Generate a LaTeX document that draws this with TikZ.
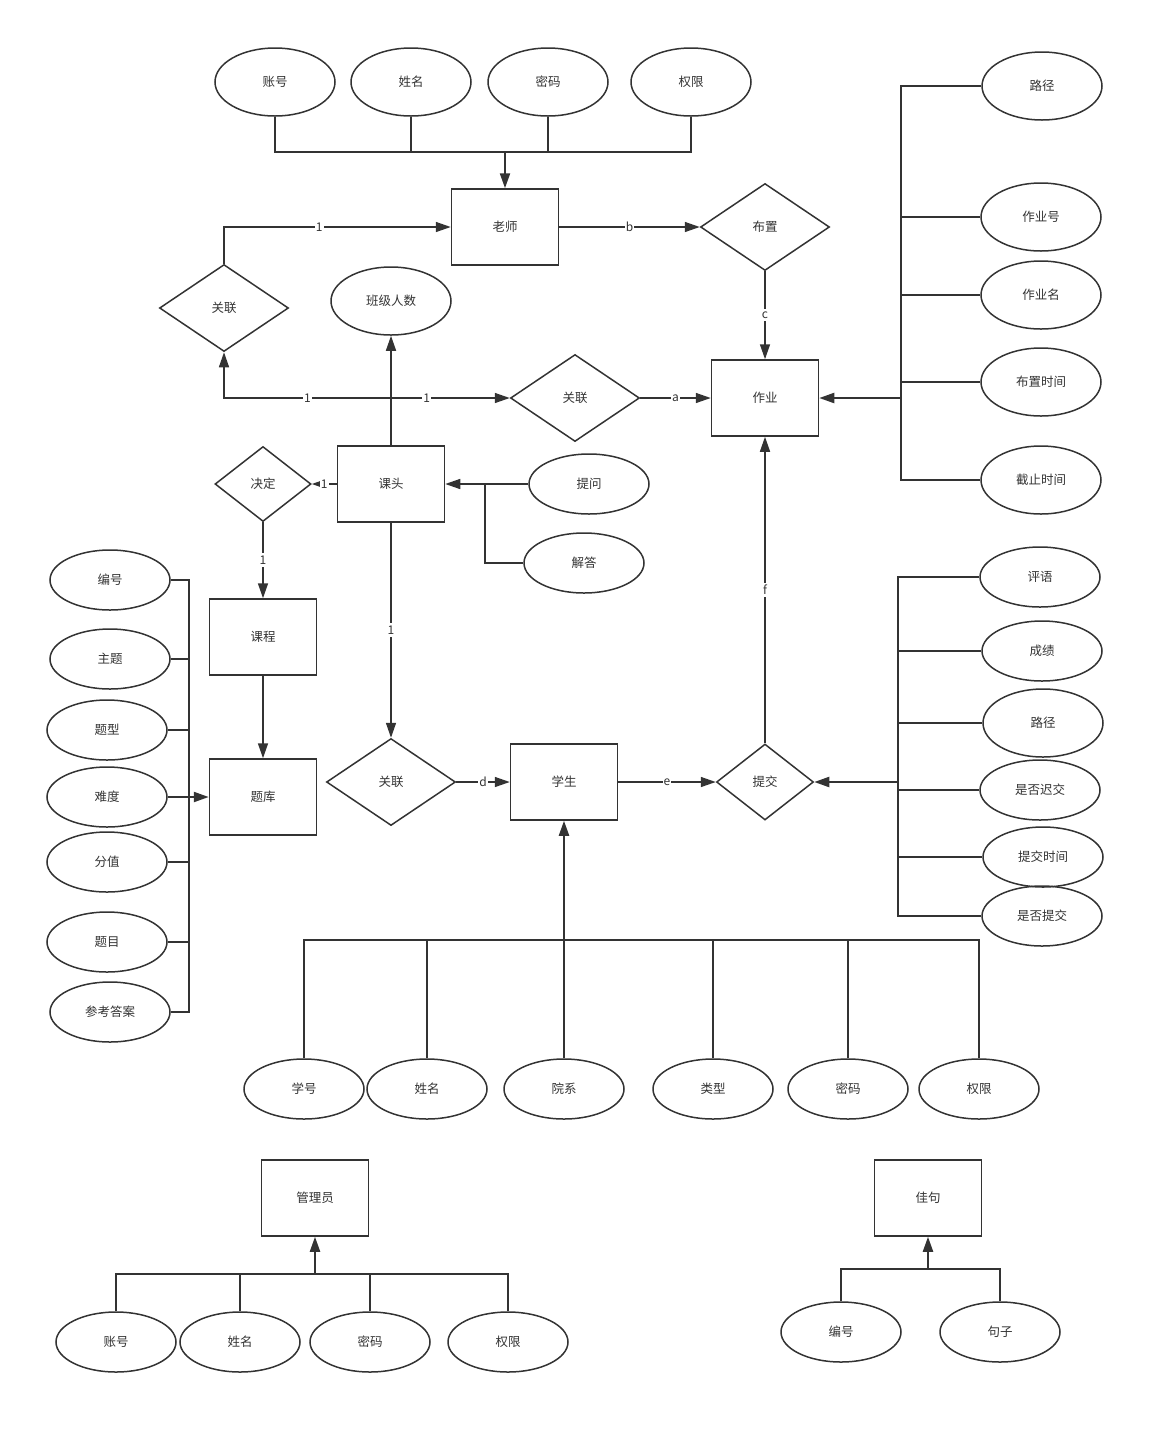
\documentclass[tikz,border=0pt]{standalone}
\usepackage{fontspec}
\setmainfont{Noto Sans CJK SC}
\usepackage{tikz}
\usetikzlibrary{shapes.geometric,arrows.meta}
\definecolor{inkgray}{RGB}{51,51,51}

\begin{document}
\begin{tikzpicture}[x=1pt,y=-1pt,
  entity/.style={rectangle, draw=inkgray, line width=1.5pt, minimum width=107pt, minimum height=76pt, font=\fontsize{12.5}{14}\selectfont, text=inkgray},
  attr/.style={ellipse, draw=inkgray, line width=1.5pt, inner sep=0pt, minimum width=120pt, minimum height=60pt, font=\fontsize{12.5}{14}\selectfont, text=inkgray},
  rel/.style={diamond, draw=inkgray, line width=1.5pt, inner sep=0pt, minimum width=129pt, minimum height=87pt, font=\fontsize{12.5}{14}\selectfont, text=inkgray},
  conn/.style={draw=inkgray, line width=1.5pt},
  arr/.style={conn, -{Triangle[length=15pt,width=10pt]}},
  trunk/.style={arr, line width=2.2pt},
  lbl/.style={fill=white, inner xsep=1pt, inner ysep=2.5pt, font=\fontsize{12}{14}\selectfont, text=inkgray}
]
  \useasboundingbox (0,0) rectangle (1164,1433);

  \node[entity] (teacher) at (505,227) {老师};
  \node[rel] (assign) at (765,227) {布置};
  \node[entity] (hw) at (765,398) {作业};
  \node[rel] (relT) at (224,308) {关联};
  \node[attr, minimum height=68pt] (banji) at (391,301) {班级人数};
  \node[entity] (ketou) at (391,484) {课头};
  \node[rel] (relH) at (575,398) {关联};
  \node[rel, minimum width=96pt, minimum height=75pt] (decide) at (263,484) {决定};
  \node[entity] (course) at (263,637) {课程};
  \node[entity] (bank) at (263,797) {题库};
  \node[attr] (ask) at (589,484) {提问};
  \node[attr] (answer) at (584,563) {解答};
  \node[rel] (relS) at (391,782) {关联};
  \node[entity] (student) at (564,782) {学生};
  \node[rel, minimum width=97pt, minimum height=76pt] (submit) at (765,782) {提交};
  \node[entity] (admin) at (315,1198) {管理员};
  \node[entity] (quote) at (928,1198) {佳句};

  \coordinate (tJ) at (505,152);
  \coordinate (hJ) at (901,398);
  \coordinate (kJ) at (391,398);
  \coordinate (qaJ) at (485,484);
  \coordinate (qJ) at (189,797);
  \coordinate (sJ) at (898,782);
  \coordinate (stJ) at (564,940);
  \coordinate (aJ) at (315,1274);
  \coordinate (jJ) at (928,1269);

  \foreach \n/\x/\t in {ta1/275/账号, ta2/411/姓名, ta3/548/密码, ta4/691/权限} {
    \node[attr, minimum height=68pt] (\n) at (\x,82) {\t};
    \draw[conn] (\n.south) |- (tJ);
  }
  \draw[trunk] (tJ) -- (teacher);

  \foreach \n/\x/\y/\t in {ha1/1042/86/路径, ha2/1041/217/作业号, ha3/1041/295/作业名, ha4/1041/382/布置时间, ha5/1041/480/截止时间} {
    \node[attr, minimum height=68pt] (\n) at (\x,\y) {\t};
    \draw[conn] (\n.west) -| (hJ);
  }
  \draw[trunk] (hJ) -- (hw);

  \foreach \n/\x/\y/\h/\t in {sa1/1040/577/60/评语, sa2/1042/651/60/成绩, sa3/1043/723/68/路径, sa4/1040/790/60/是否迟交, sa5/1043/857/60/提交时间, sa6/1042/916/60/是否提交} {
    \node[attr, minimum height=\h pt] (\n) at (\x,\y) {\t};
    \draw[conn] (\n.west) -| (sJ);
  }
  \draw[trunk] (sJ) -- (submit);

  \foreach \n/\x/\y/\t in {qa1/110/580/编号, qa2/110/659/主题, qa3/107/730/题型, qa4/107/797/难度, qa5/107/862/分值, qa6/107/942/题目, qa7/110/1012/参考答案} {
    \node[attr] (\n) at (\x,\y) {\t};
    \draw[conn] (\n.east) -| (qJ);
  }
  \draw[trunk] (qJ) -- (bank);

  \foreach \n/\x/\t in {st1/304/学号, st2/427/姓名, st3/564/院系, st4/713/类型, st5/848/密码, st6/979/权限} {
    \node[attr] (\n) at (\x,1089) {\t};
    \draw[conn] (\n.north) |- (stJ);
  }
  \draw[trunk] (stJ) -- (student);

  \foreach \n/\x/\t in {ad1/116/账号, ad2/240/姓名, ad3/370/密码, ad4/508/权限} {
    \node[attr] (\n) at (\x,1342) {\t};
    \draw[conn] (\n.north) |- (aJ);
  }
  \draw[trunk] (aJ) -- (admin);

  \foreach \n/\x/\t in {qu1/841/编号, qu2/1000/句子} {
    \node[attr] (\n) at (\x,1332) {\t};
    \draw[conn] (\n.north) |- (jJ);
  }
  \draw[trunk] (jJ) -- (quote);

  \draw[arr] (teacher) -- node[lbl]{b} (assign);
  \draw[arr] (assign) -- node[lbl]{c} (hw);
  \draw[arr] (relH) -- node[lbl]{a} (hw);
  \draw[arr] (relT.north) |- node[lbl, pos=0.71]{1} (teacher.west);
  \draw[arr] (ketou) -- (banji);
  \draw[arr] (kJ) -| node[lbl, pos=0.25]{1} (relT);
  \draw[arr] (kJ) -- node[lbl, pos=0.3]{1} (relH);
  \draw[arr] (ketou) -- node[lbl]{1} (decide);
  \draw[arr] (decide) -- node[lbl]{1} (course);
  \draw[arr] (course) -- (bank);
  \draw[arr] (ask) -- (ketou);
  \draw[conn] (answer.west) -| (qaJ);
  \draw[arr] (ketou) -- node[lbl]{1} (relS);
  \draw[arr] (relS) -- node[lbl]{d} (student);
  \draw[arr] (student) -- node[lbl]{e} (submit);
  \draw[arr] (submit) -- node[lbl]{f} (hw);
\end{tikzpicture}
\end{document}
